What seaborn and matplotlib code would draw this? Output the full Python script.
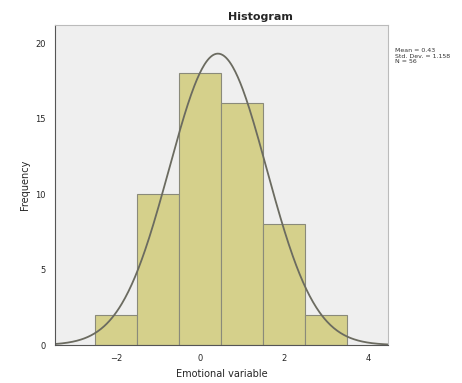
import numpy as np
import matplotlib
matplotlib.use("Agg")
import matplotlib.pyplot as plt
import seaborn as sns

# Binned scores: bin centers and frequency counts
bin_centers = [-2, -1, 0, 1, 2, 3]
counts = [2, 10, 18, 16, 8, 2]
bin_edges = [-2.5, -1.5, -0.5, 0.5, 1.5, 2.5, 3.5]
x_ticks = [-2, 0, 2, 4]
y_ticks = [0, 5, 10, 15, 20]

sns.set_theme(style="white")
plt.rcParams["font.family"] = ["DejaVu Sans"]

fig = plt.figure(figsize=(4.62, 3.83), dpi=100)
ax = fig.add_axes([0.119, 0.099, 0.721, 0.836])
ax.set_facecolor("#efefef")

sns.histplot(x=bin_centers, weights=counts, bins=bin_edges, ax=ax,
             color="#d5d08b", alpha=1.0, edgecolor="#8a8a7a", linewidth=0.8)

# Fitted normal curve from the binned data
c = np.array(bin_centers, dtype=float)
w = np.array(counts, dtype=float)
n = w.sum()
mean = (c * w).sum() / n
sd = np.sqrt((w * (c - mean) ** 2).sum() / (n - 1))
bw = bin_edges[1] - bin_edges[0]
xs = np.linspace(-3.45, 4.48, 400)
ys = n * bw / (sd * np.sqrt(2 * np.pi)) * np.exp(-0.5 * ((xs - mean) / sd) ** 2)
ax.plot(xs, ys, color="#6b6b60", linewidth=1.3)

ax.set_xlim(-3.45, 4.48)
ax.set_ylim(0, 21.2)
ax.set_xticks(x_ticks)
ax.set_yticks(y_ticks)
ax.tick_params(labelsize=6, length=3, color="#555555")
for s in ax.spines.values():
    s.set_color("#bbbbbb")
    s.set_linewidth(0.8)
ax.spines["left"].set_color("#555555")
ax.spines["bottom"].set_color("#555555")

fig.text(0.563, 0.955, "Histogram", fontsize=8, fontweight="bold",
         ha="center", va="center")
ax.set_ylabel("Frequency", fontsize=7)
ax.set_xlabel("Emotional variable", fontsize=7)

fig.text(0.855, 0.875,
         f"Mean = {mean:.2f}\nStd. Dev. = {sd:.3f}\nN = {int(n)}",
         fontsize=4.5, va="top", ha="left", color="#333333")

fig.savefig("out.png", dpi=100)
